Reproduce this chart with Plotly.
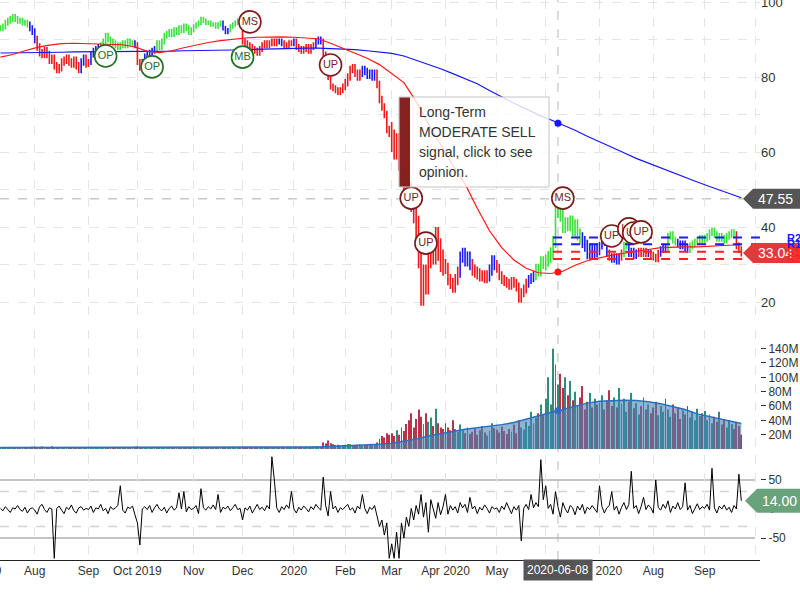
import numpy as np
import pandas as pd
import plotly.graph_objects as go

# ---------------- calendar ----------------
START_DATE = "2019-07-12"
LAST_DATE = "2020-09-23"
AXIS_LAST_DATE = "2020-10-09"
MARKET_HOLIDAYS = ["2019-09-02", "2019-11-28", "2019-12-25", "2020-01-01", "2020-01-20",
                   "2020-02-17", "2020-04-10", "2020-05-25", "2020-07-03", "2020-09-07"]

# ---------------- daily closes (by month) ----------------
close_2019_07 = [93, 93.5, 94.5, 95, 95.5, 96, 95.5, 95, 95, 94.5, 94.5, 94, 93, 92]
close_2019_08 = [90, 88, 86.5, 86, 87, 86, 84.5, 85, 83, 82, 82.5, 84, 84.5, 85, 84, 83.5, 84.5, 83, 82, 84, 85, 83.5]
close_2019_09 = [84, 86, 87, 87.5, 88, 88.5, 89.5, 91, 90, 89.5, 89, 88.5, 88, 88.5, 89, 88.5, 89.5, 89, 89, 88.5]
close_2019_10 = [84, 82.5, 84, 85.5, 86, 86.5, 87, 87.5, 89, 88, 89.5, 91, 91.5, 92, 91.5, 92.5, 92, 93, 92.5, 93.5, 93, 92, 92.5]
close_2019_11 = [93.5, 94, 94.5, 95.5, 95, 94.5, 94.5, 94, 94, 93.5, 94, 94.5, 93, 92, 92.5, 93.5, 94, 94.5, 95, 94.5]
close_2019_12 = [89.5, 89, 88.5, 88, 87.5, 87, 86.5, 87.5, 88.5, 89, 88.5, 89, 89.5, 89, 89.5, 89.5, 89, 88.5, 88.5, 89, 89]
close_2020_01 = [89.5, 88, 87.5, 87, 87.5, 88, 87, 88, 88.5, 89.5, 90, 89.5, 86, 84, 80, 77.5, 77, 76.5, 76, 76.5, 77.5]
close_2020_02 = [78.5, 80, 82, 82.5, 81, 80, 81, 82, 81.5, 80.5, 81, 80, 81, 78, 74, 72, 70, 66, 65]
close_2020_03 = [63, 61, 62, 58, 54, 52, 50, 49, 47, 44, 40, 32, 22, 27, 25, 32, 35, 33, 37, 34, 31, 30]
close_2020_04 = [29, 26, 25, 24, 26, 28, 32, 33, 31, 32, 30, 28.5, 28, 27.5, 27, 27, 26.5, 27, 28.5, 31, 30]
close_2020_05 = [29, 27, 26, 25.5, 25, 24.5, 25.5, 25, 24, 21, 22.5, 23.5, 25, 26, 26.5, 27, 29, 28, 31, 30]
close_2020_06 = [31, 32, 33, 36, 44, 45, 43, 40, 41, 40.5, 41.5, 39, 40.5, 38, 37, 36, 35, 33, 34, 33, 34, 33.5]
close_2020_07 = [35, 37, 36, 33, 32, 31.5, 32, 31, 32, 33, 35, 35.5, 33, 33.5, 32.5, 33, 33.5, 33, 33.5, 33, 33, 32.5]
close_2020_08 = [32, 31.5, 33, 34, 34.5, 34, 37.5, 38, 36.5, 36, 35.5, 35, 35.5, 34.5, 34, 35, 35.5, 36, 36.5, 37, 36.5]
close_2020_09 = [37, 37.5, 38.5, 39, 38, 37, 37.5, 37, 36.5, 37.5, 38, 38.5, 38, 35, 34, 33.04]

# typical extra bar range (half) per month, Jul 2019 .. Sep 2020
month_pad = [0.8, 1.0, 0.8, 0.8, 0.6, 0.8, 0.8, 1.0, 3.0, 1.5, 1.2, 1.6, 1.0, 0.9, 0.9]

# trend state of each bar: g = green, b = blue, r = red  (run-length)
state_runs = [("g", 12), ("b", 3), ("r", 18), ("b", 2), ("r", 2), ("b", 4), ("g", 14), ("b", 1), ("r", 2),
              ("b", 6), ("g", 27), ("b", 3), ("g", 5), ("r", 15), ("b", 2), ("r", 4), ("b", 1), ("r", 8),
              ("b", 3), ("r", 16), ("b", 6), ("r", 34), ("b", 5), ("r", 7), ("b", 3), ("r", 13), ("b", 3),
              ("g", 19), ("b", 11), ("r", 1), ("b", 4), ("r", 1), ("g", 2), ("b", 4), ("r", 4), ("b", 1),
              ("r", 4), ("b", 3), ("g", 4), ("b", 5), ("g", 19), ("r", 3)]

# ---------------- daily volume (millions) ----------------
vol_2019_07 = [2.1, 1.8, 2.5, 1.6, 2.0, 2.8, 1.9, 2.2, 1.7, 2.4, 2.0, 1.8, 2.6, 3.0]
vol_2019_08 = [3.2, 2.8, 2.4, 3.5, 2.6, 2.2, 2.9, 3.8, 2.5, 2.1, 2.7, 2.3, 2.0, 2.6, 1.9, 2.4, 2.2, 1.8, 2.5, 2.1, 1.9, 2.3]
vol_2019_09 = [2.0, 2.4, 1.8, 2.2, 2.6, 2.1, 1.9, 2.5, 2.3, 2.0, 2.7, 1.8, 2.2, 2.4, 2.0, 1.9, 2.3, 2.6, 2.1, 3.0]
vol_2019_10 = [3.4, 2.9, 2.5, 2.2, 2.0, 2.3, 1.9, 2.1, 2.6, 2.4, 2.0, 1.8, 2.2, 2.5, 2.1, 1.9, 2.3, 2.0, 2.4, 2.2, 1.8, 2.1, 2.5]
vol_2019_11 = [2.2, 2.0, 2.4, 2.7, 2.1, 1.9, 2.3, 2.0, 1.8, 2.2, 2.5, 2.1, 2.4, 2.0, 1.9, 2.3, 2.6, 2.2, 2.0, 1.6]
vol_2019_12 = [2.8, 2.5, 2.2, 2.4, 2.0, 2.3, 2.1, 1.9, 2.6, 2.2, 2.0, 2.8, 2.4, 2.1, 2.3, 1.9, 1.7, 1.5, 1.8, 2.0, 2.2]
vol_2020_01 = [2.5, 3.0, 2.8, 3.2, 2.9, 3.5, 3.1, 2.8, 3.4, 3.8, 4.0, 3.6, 9.0, 7.5, 12.0, 8.0, 6.5, 5.5, 6.0, 5.0, 5.5]
vol_2020_02 = [6.0, 7.0, 6.5, 5.5, 5.0, 5.8, 6.2, 5.0, 4.8, 5.5, 6.0, 5.2, 5.8, 9.0, 14.0, 18.0, 16.0, 22.0, 20.0]
vol_2020_03 = [22, 18, 26, 20, 30, 25, 35, 40, 50, 30, 42, 55, 45, 35, 50, 38, 44, 32, 56, 36, 30, 28]
vol_2020_04 = [36, 30, 26, 40, 28, 24, 34, 26, 22, 30, 21, 24, 28, 20, 26, 32, 23, 19, 25, 36, 29]
vol_2020_05 = [27, 23, 31, 25, 21, 28, 24, 34, 22, 40, 30, 27, 38, 32, 52, 36, 44, 50, 62, 48]
vol_2020_06 = [70, 100, 62, 140, 118, 90, 105, 85, 100, 75, 95, 68, 80, 60, 72, 88, 55, 66, 78, 58, 70, 62]
vol_2020_07 = [65, 75, 55, 68, 82, 60, 72, 58, 85, 63, 70, 52, 66, 78, 57, 64, 48, 60, 72, 55, 62, 50]
vol_2020_08 = [58, 66, 47, 60, 52, 70, 55, 45, 62, 50, 58, 42, 54, 48, 60, 44, 52, 40, 56, 46, 50]
vol_2020_09 = [53, 40, 48, 36, 45, 38, 52, 34, 42, 30, 40, 35, 28, 38, 32, 20]

# ---------------- oscillator (lower panel) ----------------
osc_2019_07 = [1, -3, 4, -1, -6, 2, 0, 6, -1, -4, 3, -7, 0, 2]
osc_2019_08 = [-2, -9, 4, 8, -1, -6, 2, 0, -85, 1, 5, -2, -8, 3, -1, 7, -3, -7, 2, 4, -2, 1]
osc_2019_09 = [-1, 5, -6, 2, 0, 8, -3, 1, -8, 4, -1, 2, 6, 40, -2, -7, 3, 1, 5, -10]
osc_2019_10 = [-24, -62, 0, 4, -1, 6, -6, 2, 8, 0, -3, 3, -7, 1, 5, -2, 2, 28, 0, 30, -5, 4, -1]
osc_2019_11 = [1, 6, -8, 35, 2, -2, 4, 0, 7, -1, 25, -6, 3, 0, 5, -3, 2, 8, -1, 1]
osc_2019_12 = [-19, 2, -2, 5, -7, 1, 8, -1, 3, -3, 6, 0, 90, 50, 2, -6, 4, -1, 7, 1, 30]
osc_2020_01 = [0, -7, 3, -2, 5, 1, -5, 4, -1, 8, 2, -2, 55, 6, -12, 30, 0, 5, -6, 2, -1]
osc_2020_02 = [4, 8, -2, 2, -7, 5, 0, 25, 1, -8, 3, -1, 6, -14, -30, -19, -45, -24, -85]
osc_2020_03 = [-60, -85, -40, -85, -24, -50, -14, -30, 1, -19, 6, -9, 25, -14, 11, -40, 16, 1, -16, 11, -10, 4]
osc_2020_04 = [25, -9, 6, -2, 4, -7, 11, 2, 8, -6, 20, 0, 5, -8, 3, -2, 7, 1, -7, 4, 0]
osc_2020_05 = [2, -6, 5, -1, 11, 1, -8, 4, -2, 6, -55, 1, 8, -1, 25, 2, 11, 4, 85, 16]
osc_2020_06 = [40, 1, 8, -9, 30, 4, -14, 11, 0, -7, 6, 2, -10, 5, -2, 8, -8, 3, -1, 6, 1, -6]
osc_2020_07 = [40, 4, -7, 2, 6, 30, -2, 5, -9, 3, 11, -1, 8, 65, 1, 6, -8, 4, 20, -1, 7, 2]
osc_2020_08 = [-7, 50, 3, -2, 8, 1, 14, -6, 5, 0, 11, -1, 4, 45, -2, 6, -8, 2, 9, -1, 4]
osc_2020_09 = [1, 8, -2, 70, 2, -7, 5, 0, 7, -2, 3, -6, 6, 0, 60, 14]

# ---------------- moving averages, sampled every 5 sessions ----------------
ma_idx = list(range(0, 301, 5)) + [303]
ma_long = [86.4, 86.4, 86.5, 86.6, 86.6, 86.6, 86.7, 86.7, 86.7, 86.7,
           86.7, 86.8, 86.8, 86.9, 86.9, 87.0, 87.0, 87.1, 87.1, 87.2,
           87.3, 87.4, 87.5, 87.6, 87.7, 87.7, 87.7, 87.6, 87.5, 87.3,
           87.0, 86.7, 86.3, 85.6, 84.5, 83.3, 82.2, 80.9, 79.6, 78.2,
           76.4, 74.6, 73.0, 71.5, 69.9, 68.6, 67.3, 65.8, 64.2, 62.8,
           61.3, 59.8, 58.3, 57.0, 55.8, 54.5, 53.2, 52.0, 50.8, 49.6,
           48.4, 47.8]
ma_short = [85.3, 86.0, 87.0, 87.9, 88.5, 88.9, 89.0, 88.9, 88.8, 88.7,
            88.6, 88.0, 86.9, 86.5, 87.0, 87.8, 88.6, 89.2, 89.7, 90.1,
            90.4, 90.6, 90.7, 90.7, 90.6, 90.5, 90.2, 89.0, 87.6, 86.4,
            85.0, 83.3, 81.0, 78.5, 73.5, 67.5, 62.0, 56.5, 51.5, 45.0,
            39.0, 34.5, 31.2, 29.0, 27.8, 27.6, 28.2, 29.8, 31.0, 31.8,
            32.5, 33.0, 33.4, 34.0, 34.5, 34.7, 34.7, 34.7, 34.8, 35.0,
            35.2, 35.3]
vol_ma = [2.2, 2.2, 2.3, 2.4, 2.5, 2.5, 2.4, 2.4, 2.3, 2.3,
          2.3, 2.3, 2.3, 2.2, 2.2, 2.2, 2.2, 2.2, 2.2, 2.2,
          2.2, 2.2, 2.2, 2.2, 2.3, 2.5, 2.9, 3.6, 4.3, 4.9,
          5.4, 6.5, 8.0, 10.5, 14.0, 18.0, 21.5, 25.0, 27.5, 29.5,
          31.5, 34.0, 37.0, 42.0, 46.5, 51.0, 55.0, 60.0, 64.0, 66.5,
          67.5, 68.0, 67.5, 66.0, 63.0, 59.0, 55.0, 49.0, 45.5, 42.0,
          38.0, 35.5]

# ---------------- signals, levels, crosshair ----------------
signals = [("OP", 43, 85.6, "buy"), ("OP", 62, 82.7, "buy"), ("MB", 99, 85.3, "buy"),
           ("MS", 102, 94.7, "sell"), ("UP", 135, 83.2, "sell"), ("UP", 168, 47.7, "sell"),
           ("UP", 174, 35.7, "sell"), ("MS", 230, 47.7, "sell"), ("UP", 250, 37.6, "sell"),
           ("UP", 257, 39.5, "sell"), ("UP", 259, 38.4, "sell"), ("UP", 262, 38.7, "sell")]
level_names = ["R2", "R1", "S1", "S2"]
level_values = [37.2, 35.4, 33.4, 31.5]
level_start = 226
crosshair_idx = 228
crosshair_price = 47.55
hover_ma_long, hover_ma_short, hover_vol_ma = 67.7, 28.0, 53.5
tooltip_lines = ["Long-Term", "MODERATE SELL", "signal, click to see", "opinion."]
month_labels = ["Aug", "Sep", "Oct 2019", "Nov", "Dec", "2020", "Feb", "Mar", "Apr 2020",
                "May", "Jun", "Jul 2020", "Aug", "Sep", ""]
price_ticks = [20, 40, 60, 80, 100]
volume_ticks = [20, 40, 60, 80, 100, 120, 140]
osc_ticks = [-50, 0, 50]

# ---------------- assemble ----------------
closes = np.array(close_2019_07 + close_2019_08 + close_2019_09 + close_2019_10 + close_2019_11 +
                  close_2019_12 + close_2020_01 + close_2020_02 + close_2020_03 + close_2020_04 +
                  close_2020_05 + close_2020_06 + close_2020_07 + close_2020_08 + close_2020_09, float)
volume = np.array(vol_2019_07 + vol_2019_08 + vol_2019_09 + vol_2019_10 + vol_2019_11 + vol_2019_12 +
                  vol_2020_01 + vol_2020_02 + vol_2020_03 + vol_2020_04 + vol_2020_05 + vol_2020_06 +
                  vol_2020_07 + vol_2020_08 + vol_2020_09, float)
osc = np.array(osc_2019_07 + osc_2019_08 + osc_2019_09 + osc_2019_10 + osc_2019_11 + osc_2019_12 +
               osc_2020_01 + osc_2020_02 + osc_2020_03 + osc_2020_04 + osc_2020_05 + osc_2020_06 +
               osc_2020_07 + osc_2020_08 + osc_2020_09, float)

dates = pd.bdate_range(START_DATE, LAST_DATE, freq="C", holidays=MARKET_HOLIDAYS)
n = len(closes)
dates = dates[:n]
idx = np.arange(n)
states = np.array([s for s, k in state_runs for _ in range(k)])[:n]

month_code = (dates.year - dates[0].year) * 12 + dates.month - dates[0].month
pad = np.array(month_pad)[np.asarray(month_code)]
opens = np.concatenate([[closes[0]], closes[:-1]])
highs = np.maximum(opens, closes) + pad
lows = np.minimum(opens, closes) - pad

axis_dates = pd.bdate_range(START_DATE, AXIS_LAST_DATE, freq="C", holidays=MARKET_HOLIDAYS)
apos = np.arange(len(axis_dates))
am = np.asarray(axis_dates.month)
month_starts = list(apos[1:][am[1:] != am[:-1]])

# ---------------- styling ----------------
W, H = 800, 600
PLOT_R = 760
FONT = "Liberation Sans, Arial, sans-serif"
GREEN, BLUE, RED = "#3be03b", "#1a1aff", "#f01818"
GRID = "#e4e4e4"
PX_PER_BAR = 2.445
x_range = [-0.2, PLOT_R / PX_PER_BAR - 0.2]


def py(px):
    return 1 - px / H


price_dom = [py(320), 1.0]
vol_dom = [py(450), py(330)]
osc_dom = [py(560), py(455)]

fig = go.Figure()

# price bars
for st, col in [("r", RED), ("b", BLUE), ("g", GREEN)]:
    m = states == st
    fig.add_trace(go.Ohlc(x=idx[m], open=opens[m], high=highs[m], low=lows[m], close=closes[m],
                          increasing=dict(line=dict(color=col, width=1.6)),
                          decreasing=dict(line=dict(color=col, width=1.6)),
                          xaxis="x", yaxis="y", hoverinfo="skip", showlegend=False))

# moving averages
fig.add_trace(go.Scatter(x=ma_idx, y=ma_long, mode="lines", line=dict(color="#1515ff", width=1.2),
                         xaxis="x", yaxis="y", hoverinfo="skip"))
fig.add_trace(go.Scatter(x=ma_idx, y=ma_short, mode="lines", line=dict(color="#ff1515", width=1.2),
                         xaxis="x", yaxis="y", hoverinfo="skip"))

# support / resistance levels
for name, val in zip(level_names, level_values):
    col = "#1a1aff" if name.startswith("R") else "#ff2020"
    fig.add_trace(go.Scatter(x=[level_start, x_range[1] + 20], y=[val, val], mode="lines",
                             line=dict(color=col, width=2, dash="dash"),
                             xaxis="x", yaxis="y", hoverinfo="skip"))

# hover dots
fig.add_trace(go.Scatter(x=[crosshair_idx], y=[hover_ma_long], mode="markers",
                         marker=dict(color="#1515ff", size=7), xaxis="x", yaxis="y"))
fig.add_trace(go.Scatter(x=[crosshair_idx], y=[hover_ma_short], mode="markers",
                         marker=dict(color="#ff1515", size=7), xaxis="x", yaxis="y"))

# signal circles
for label, i, p, kind in signals:
    c = "#1f6e22" if kind == "buy" else "#7a1b1b"
    fig.add_trace(go.Scatter(x=[i], y=[p], mode="markers+text", text=[label],
                             textposition="middle center",
                             textfont=dict(size=11, color=c, family=FONT),
                             marker=dict(size=22, color="white", line=dict(color=c, width=1.6)),
                             cliponaxis=False, xaxis="x", yaxis="y", hoverinfo="skip"))

# volume
fig.add_trace(go.Scatter(x=ma_idx, y=vol_ma, mode="lines", fill="tozeroy",
                         fillcolor="rgba(70,130,180,0.6)", line=dict(color="#2b6fc0", width=1.5),
                         xaxis="x2", yaxis="y2", hoverinfo="skip"))
vol_colors = np.where(closes >= opens, "#2e8b7e", "#b8324a")
fig.add_trace(go.Bar(x=idx, y=volume, marker=dict(color=list(vol_colors), line=dict(width=0)),
                     width=0.38, xaxis="x2", yaxis="y2", hoverinfo="skip"))
fig.add_trace(go.Scatter(x=[crosshair_idx], y=[hover_vol_ma], mode="markers",
                         marker=dict(color="#2b6fc0", size=7), xaxis="x2", yaxis="y2"))

# oscillator
fig.add_trace(go.Scatter(x=idx, y=osc, mode="lines", line=dict(color="black", width=1),
                         xaxis="x3", yaxis="y3", hoverinfo="skip"))

xcommon = dict(range=x_range, autorange=False, tickvals=month_starts, showgrid=True, gridcolor=GRID,
               griddash="dash", gridwidth=1, zeroline=False, domain=[0, PLOT_R / W],
               rangeslider=dict(visible=False), automargin=False)
fig.update_layout(
    width=W, height=H, margin=dict(l=0, r=0, t=0, b=0, autoexpand=False), showlegend=False,
    paper_bgcolor="white", plot_bgcolor="white",
    font=dict(family=FONT, size=12, color="#333"),
    xaxis=dict(**xcommon, anchor="y", showticklabels=False),
    xaxis2=dict(**xcommon, anchor="y2", showticklabels=False),
    xaxis3=dict(**xcommon, anchor="y3", ticktext=month_labels, showticklabels=True,
                showline=True, linecolor="#222", linewidth=1, ticks="",
                tickfont=dict(size=12, color="#333", family=FONT)),
    yaxis=dict(domain=price_dom, range=[100 - 318 / 3.75, 100 + 2 / 3.75], side="right",
               tickvals=price_ticks, ticktext=[str(v) for v in price_ticks], automargin=False,
               ticklabeloverflow="allow", showgrid=True, gridcolor=GRID, griddash="dash",
               minor=dict(tickvals=[30, 50, 70, 90], showgrid=True, gridcolor=GRID, griddash="dash"),
               zeroline=False, tickfont=dict(size=13, color="#333"), anchor="x"),
    yaxis2=dict(domain=vol_dom, range=[-1.4, 166], side="right", tickvals=volume_ticks,
                ticktext=[f"{v}M" for v in volume_ticks], ticklabeloverflow="allow", automargin=False,
                ticks="outside", ticklen=5, tickcolor="#333", showgrid=False,
                zeroline=False, tickfont=dict(size=12, color="#333"), anchor="x2"),
    yaxis3=dict(domain=osc_dom, range=[-87.9, 93], side="right", tickvals=osc_ticks,
                ticktext=[str(v) for v in osc_ticks], automargin=False,
                ticks="outside", ticklen=5, tickcolor="#333", showgrid=False, zeroline=False,
                tickfont=dict(size=12, color="#333"), anchor="x3"),
)

shapes = []
annotations = []

# oscillator reference lines
for v, dash, col in [(50, "solid", "#b0b0b0"), (-50, "solid", "#b0b0b0"), (30, "dash", "#d4d4d4"), (-30, "dash", "#d4d4d4")]:
    shapes.append(dict(type="line", xref="paper", yref="y3", x0=0, x1=755 / W, y0=v, y1=v,
                       line=dict(color=col, width=1.5, dash=dash), layer="below"))

# crosshair
shapes.append(dict(type="line", xref="x", yref="paper", x0=crosshair_idx, x1=crosshair_idx,
                   y0=py(560), y1=1, line=dict(color="#b8b8b8", width=1, dash="dash"), layer="below"))
shapes.append(dict(type="line", xref="paper", yref="y", x0=0, x1=743 / W, y0=crosshair_price,
                   y1=crosshair_price, line=dict(color="#c8c8c8", width=1.5, dash="dash"), layer="below"))


def value_tag(value, yref, half, color, text, tip=743, body=753):
    shapes.append(dict(type="path", xref="paper", yref=yref,
                       path=f"M {tip / W} {value} L {body / W} {value + half} L 1 {value + half} "
                            f"L 1 {value - half} L {body / W} {value - half} Z",
                       fillcolor=color, line=dict(width=0), layer="above"))
    annotations.append(dict(xref="paper", yref=yref, x=body / W + 0.004, y=value, xanchor="left",
                            yanchor="middle", text=text, showarrow=False,
                            font=dict(color="white", size=14, family=FONT)))


value_tag(crosshair_price, "y", 10 / 3.75, "#555555", f"{crosshair_price:.2f}")
value_tag(closes[-1], "y", 10 / 3.75, "#e23a3a", f"{closes[-1]:.2f}")
value_tag(osc[-1], "y3", 12 / 0.58, "#68a37c", f"{osc[-1]:.2f}", tip=745, body=757)

for name, val in zip(level_names, level_values):
    col = "#1a1aff" if name.startswith("R") else "#ff2020"
    annotations.append(dict(xref="paper", yref="y", x=785 / W, y=val, xanchor="left", yanchor="middle",
                            text=f"<b>{name}</b>", showarrow=False,
                            font=dict(color=col, size=11, family=FONT)))

# tooltip box
shapes.append(dict(type="rect", xref="paper", yref="paper", x0=399 / W, x1=549 / W, y0=py(187), y1=py(97),
                   fillcolor="rgba(255,255,255,0.82)", line=dict(color="#c4c4c4", width=1), layer="above"))
shapes.append(dict(type="rect", xref="paper", yref="paper", x0=399.5 / W, x1=410 / W, y0=py(186.5), y1=py(97.5),
                   fillcolor="rgba(128,22,22,0.95)", line=dict(width=0), layer="above"))
for k, line in enumerate(tooltip_lines):
    annotations.append(dict(xref="paper", yref="paper", x=417 / W, y=py(112 + 20 * k), xanchor="left",
                            yanchor="middle", text=line, showarrow=False,
                            font=dict(color="#333", size=14, family=FONT)))

# crosshair date label and clipped first month label
annotations.append(dict(xref="x", yref="paper", x=crosshair_idx, y=py(570), xanchor="center", yanchor="middle",
                        text=dates[crosshair_idx].strftime("%Y-%m-%d"), showarrow=False, bgcolor="#555555",
                        borderpad=3, font=dict(color="white", size=12, family=FONT)))
annotations.append(dict(xref="paper", yref="paper", x=4 / W, y=py(571), xanchor="right", yanchor="middle",
                        text=dates[0].strftime("%b %Y"), showarrow=False,
                        font=dict(color="#333", size=12, family=FONT)))

fig.update_layout(shapes=shapes, annotations=annotations)
fig.write_html("out.html")
